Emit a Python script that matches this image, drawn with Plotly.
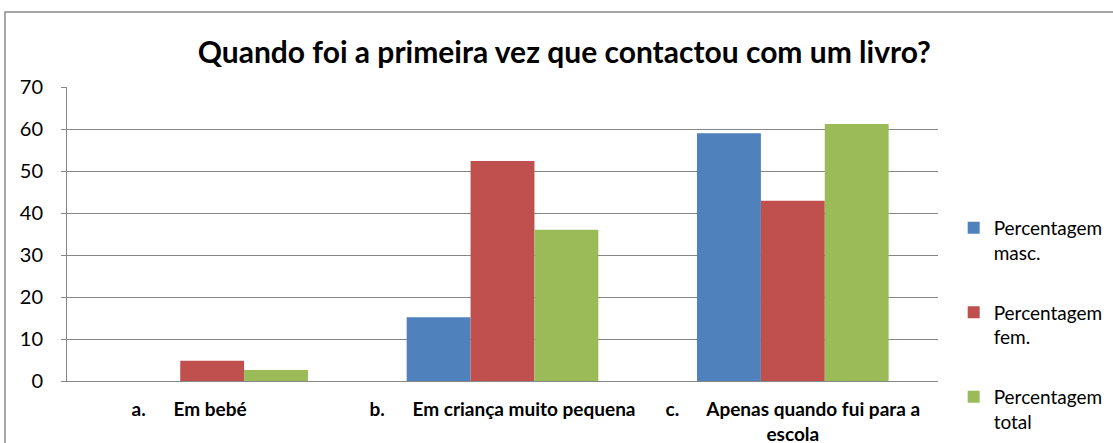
import plotly.graph_objects as go

# categories (tab in the original labels emulated with nbsp)
nb = "\u00a0"
categories = [
    "a." + nb * 6 + "Em bebé" + nb * 10,
    "b." + nb * 6 + "Em criança muito pequena",
    "c." + nb * 6 + "Apenas quando fui para a<br>escola",
]
masc = [0, 15.2, 59.0]
fem = [4.8, 52.4, 42.9]
total = [2.6, 36.0, 61.2]

series = [
    ("Percentagem<br>masc.", masc, "#4f81bd"),
    ("Percentagem<br>fem.", fem, "#c0504d"),
    ("Percentagem<br>total", total, "#9bbb59"),
]

font = "Lato, 'Open Sans', sans-serif"

fig = go.Figure()
for name, vals, col in series:
    fig.add_trace(go.Bar(x=categories, y=vals, name=name, marker_color=col,
                         marker_line_width=0, legendgroup=name))

fig.update_layout(
    width=1113, height=443,
    margin=dict(l=67, r=175, t=87, b=62, autoexpand=False),
    paper_bgcolor="white", plot_bgcolor="white",
    barmode="group", bargap=0.34, bargroupgap=0,
    font=dict(family=font, color="black"),
    title=dict(text="<b>Quando foi a primeira vez que contactou com um livro?</b>",
               x=0.507, xanchor="center", y=0.882, yanchor="middle",
               font=dict(size=30, family=font)),
    legend=dict(x=1.018, y=0.585, xanchor="left", yanchor="top",
                font=dict(size=19), tracegroupgap=32, itemsizing="constant",
                traceorder="grouped", valign="top", itemwidth=30),
    showlegend=True,
)

fig.update_yaxes(range=[0, 70], dtick=10, showgrid=True, gridcolor="#868686",
                 gridwidth=1, showline=True, linecolor="#868686", linewidth=1,
                 ticks="outside", ticklen=5, tickcolor="#868686",
                 tickfont=dict(size=20), ticklabelstandoff=14, zeroline=False)
fig.update_xaxes(showline=True, linecolor="#868686", linewidth=1,
                 tickfont=dict(size=19, family=font), tickprefix="<b>",
                 ticksuffix="</b>", ticklabelstandoff=11, mirror=False)

# outer chart frame
fig.add_shape(type="rect", xref="paper", yref="paper",
              x0=-0.0712, x1=1.3, y0=-0.3, y1=1.255,
              line=dict(color="#898989", width=1.5), layer="below")

fig.write_html("out.html", config={"displayModeBar": False},
               post_script="document.body.style.margin='0';")
